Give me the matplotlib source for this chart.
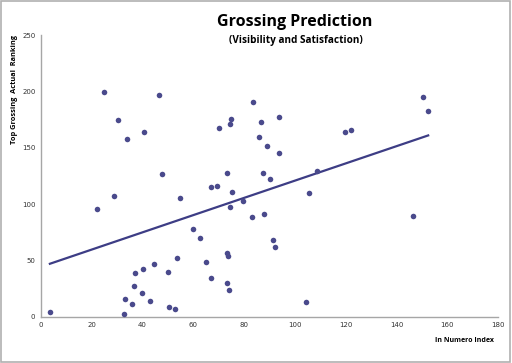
import numpy as np
import matplotlib
matplotlib.use("Agg")
import matplotlib.pyplot as plt
from matplotlib.patches import Rectangle

x_index = [3.5, 22.1, 24.9, 28.7, 30.2, 32.7, 33.2, 33.9, 35.7, 36.6,
           37.0, 39.6, 40.3, 40.7, 42.9, 44.4, 46.6, 47.6, 50.1, 50.3,
           52.8, 53.5, 54.9, 60.0, 62.5, 64.8, 66.8, 67.1, 69.2, 70.1,
           73.1, 73.4, 73.1, 73.8, 74.0, 74.5, 74.9, 74.5, 75.3, 79.4,
           83.2, 83.6, 86.5, 86.0, 89.0, 93.6, 93.8, 87.5, 90.0, 88.0,
           91.5, 92.2, 104.3, 105.5, 108.7, 119.6, 122.2, 146.6, 150.3, 152.5]
y_rank = [3.9, 95.6, 199.4, 107.5, 174.4, 2.1, 15.7, 157.4, 11.3, 27.3,
          39.0, 21.0, 42.6, 163.6, 13.9, 46.8, 197.0, 126.6, 40.0, 8.9,
          7.1, 51.8, 105.6, 77.8, 69.6, 48.5, 115.3, 34.1, 116.2, 167.1,
          29.9, 127.5, 56.8, 53.6, 24.0, 171.2, 175.6, 97.1, 110.6, 102.9,
          88.7, 190.4, 172.8, 159.2, 151.2, 145.3, 177.1, 127.8, 121.8, 91.4,
          67.8, 61.8, 13.1, 109.5, 129.6, 163.6, 166.0, 89.6, 195.1, 182.4]

x_ticks = [0, 20, 40, 60, 80, 100, 120, 140, 160, 180]
y_ticks = [0, 50, 100, 150, 200, 250]

fig = plt.figure(figsize=(5.12, 3.63), dpi=100)
ax = fig.add_axes([41/512, 1 - 316.7/363, (498-41)/512, (316.7-35)/363])

pt_color = "#4a4a8c"
ax.scatter(x_index, y_rank, s=16, color=pt_color, zorder=3, linewidths=0)

xa = np.array(x_index)
ya = np.array(y_rank)
slope, intercept = np.polyfit(xa, ya, 1)
xl = np.array([xa.min(), xa.max()])
ax.plot(xl, slope * xl + intercept, color="#3d3d85", lw=1.6, zorder=2)

ax.set_xlim(0, 180)
ax.set_ylim(0, 250)
ax.set_xticks(x_ticks)
ax.set_yticks(y_ticks)
ax.tick_params(length=0, labelsize=5, colors="#333333", pad=4)
for s in ["top", "right"]:
    ax.spines[s].set_visible(False)
for s in ["left", "bottom"]:
    ax.spines[s].set_color("#a6a6a6")
    ax.spines[s].set_linewidth(1.0)

fig.text(295/512, 1 - 21.5/363, "Grossing Prediction", ha="center", va="center",
         fontsize=11.5, fontweight="bold", family="Open Sans")
fig.text(295.5/512, 1 - 40.5/363, "(Visibility and Satisfaction)", ha="center", va="center",
         fontsize=7.2, fontweight="bold", family="Open Sans")
fig.text(15/512, 1 - 90/363, "Top Grossing  Actual  Ranking", ha="center", va="center",
         rotation=90, fontsize=5.3, fontweight="bold", family="Open Sans")
fig.text(494/512, 1 - 341/363, "In Numero Index", ha="right", va="center",
         fontsize=5.0, fontweight="bold", family="Open Sans")

fig.patches.append(Rectangle((0.002, 0.004), 0.994, 0.992, transform=fig.transFigure,
                             fill=False, edgecolor="#b0b0b0", lw=1.2))

fig.savefig("out.png", dpi=100)
